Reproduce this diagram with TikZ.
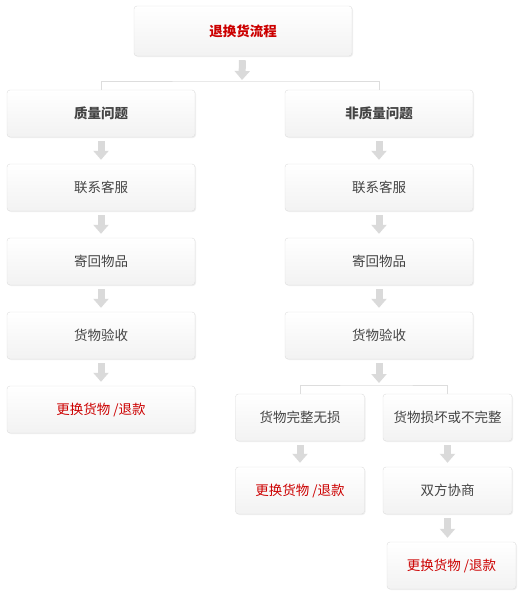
\documentclass[tikz,border=0pt]{standalone}
\usepackage{fontspec}
\setmainfont{Noto Sans CJK SC}
\usepackage{tikz}
\usepackage{xcolor}
\usetikzlibrary{arrows.meta,shadows}

\definecolor{boxline}{HTML}{DDDDDD}
\definecolor{flowgrey}{HTML}{DADADA}
\definecolor{txtgrey}{HTML}{444444}
\definecolor{txtred}{HTML}{CC0000}

\tikzset{
    box/.style={draw=boxline, rounded corners=3pt, top color=white, bottom color=black!5,
        drop shadow={opacity=0.12, shadow xshift=1pt, shadow yshift=-1pt},
        inner sep=0pt, minimum height=47pt, text=txtgrey,
        font=\fontsize{13.5}{16}\selectfont},
    wide/.style={minimum width=188pt},
    narrow/.style={minimum width=129pt},
    red/.style={text=txtred},
    flow/.style={color=flowgrey, line width=7pt, -{Triangle[width=15pt,length=9pt,fill=flowgrey]},
        shorten >=4pt, shorten <=4pt},
    split/.style={color=boxline, line width=1pt},
}

\begin{document}
\begin{tikzpicture}[x=1pt,y=-1pt]
    \useasboundingbox (0,0) rectangle (518,595);
    \node[box,red,minimum width=218pt,minimum height=50pt,font=\fontsize{13.5}{16}\selectfont\bfseries] at (243,31) (c0a1f3e2) {退换货流程};
    % quality problem
    \node[box,wide,font=\fontsize{13.5}{16}\selectfont\bfseries] at (101,113.5) (a7d40b11) {质量问题};
    \node[box,wide] at (101,187.5) (a7d40b12) {联系客服};
    \node[box,wide] at (101,261.5) (a7d40b13) {寄回物品};
    \node[box,wide] at (101,335.5) (a7d40b14) {货物验收};
    \node[box,wide,red] at (101,409.5) (a7d40b15) {更换货物 /退款};
    % no quality problem
    \node[box,wide,font=\fontsize{13.5}{16}\selectfont\bfseries] at (379,113.5) (e5b9c021) {非质量问题};
    \node[box,wide] at (379,187.5) (e5b9c022) {联系客服};
    \node[box,wide] at (379,261.5) (e5b9c023) {寄回物品};
    \node[box,wide] at (379,335.5) (e5b9c024) {货物验收};
    \node[box,narrow] at (300,417.5) (3f8e6d01) {货物完整无损};
    \node[box,narrow] at (447.5,417.5) (9b2c7a01) {货物损坏或不完整};
    \node[box,narrow,red] at (300,490.5) (3f8e6d02) {更换货物 /退款};
    \node[box,narrow] at (447.5,490.5) (9b2c7a02) {双方协商};
    \node[box,narrow,red] at (451.5,565.5) (9b2c7a03) {更换货物 /退款};
    \coordinate (f10c2b01) at (242,81);
    \coordinate (f10c2b02) at (379,385);
    \draw[split]
    (a7d40b11.north) |- (f10c2b01) -| (e5b9c021.north)
    (3f8e6d01.north) |- (f10c2b02) -| (9b2c7a01.north)
    ;
    \path[flow]
    (c0a1f3e2) edge [shorten >=1pt] (f10c2b01)
    (a7d40b11) edge (a7d40b12)
    (a7d40b12) edge (a7d40b13)
    (a7d40b13) edge (a7d40b14)
    (a7d40b14) edge (a7d40b15)
    (e5b9c021) edge (e5b9c022)
    (e5b9c022) edge (e5b9c023)
    (e5b9c023) edge (e5b9c024)
    (e5b9c024) edge [shorten >=2pt] (f10c2b02)
    (3f8e6d01) edge (3f8e6d02)
    (9b2c7a01) edge (9b2c7a02)
    (9b2c7a02.south) edge (9b2c7a02.south |- 9b2c7a03.north)
    ;
\end{tikzpicture}
\end{document}
